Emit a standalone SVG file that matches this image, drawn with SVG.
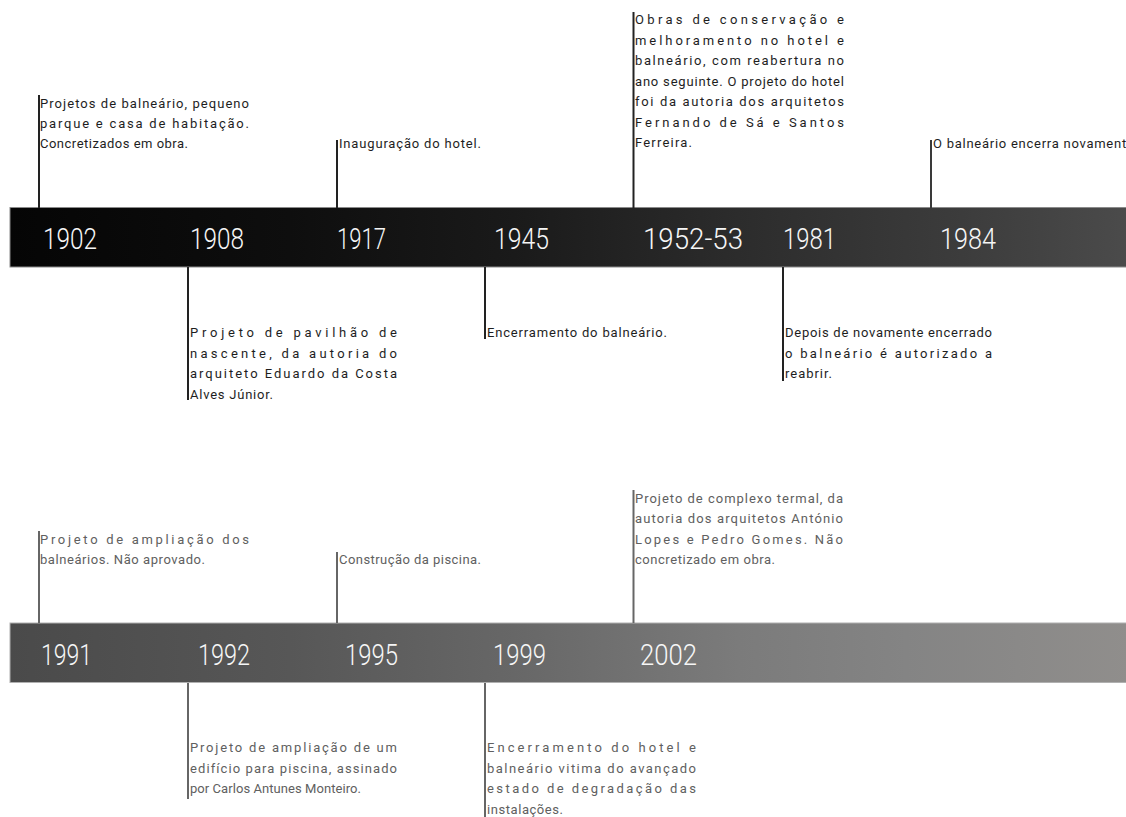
<svg xmlns="http://www.w3.org/2000/svg" width="1126" height="817" viewBox="0 0 1126 817">
<defs>
<linearGradient id="g1" x1="0" y1="0" x2="1" y2="0">
<stop offset="0" stop-color="#050505"/>
<stop offset="0.25" stop-color="#0e0e0e"/>
<stop offset="0.45" stop-color="#1a1a1a"/>
<stop offset="0.65" stop-color="#2c2c2c"/>
<stop offset="0.85" stop-color="#3c3c3c"/>
<stop offset="1" stop-color="#4b4b4b"/>
</linearGradient>
<linearGradient id="g2" x1="0" y1="0" x2="1" y2="0">
<stop offset="0" stop-color="#4a4a4a"/>
<stop offset="0.25" stop-color="#575757"/>
<stop offset="0.45" stop-color="#676767"/>
<stop offset="0.65" stop-color="#7b7b7b"/>
<stop offset="0.8" stop-color="#848484"/>
<stop offset="1" stop-color="#908e8c"/>
</linearGradient>
<style>
.bar1{fill:url(#g1);stroke:#8a8a8a;stroke-width:1}
.bar2{fill:url(#g2);stroke:#b0b0b0;stroke-width:1}
.yr{font-family:Roboto,"Liberation Sans",sans-serif;font-weight:300;font-size:29.5px;fill:#f6f6f6}
.t{font-family:Roboto,"Liberation Sans",sans-serif;font-size:13px;fill:#1e1e1e}
.t2{font-family:Roboto,"Liberation Sans",sans-serif;font-size:13px;fill:#606060}
.c1{stroke:#222;stroke-width:2;fill:none}
.c2{stroke:#666;stroke-width:2;fill:none}
</style>
</defs>
<rect width="1126" height="817" fill="#fff"/>

<g id="timeline-top">
<rect class="bar1" x="10" y="207.5" width="1120" height="59.5"/>
<text class="yr" x="43" y="249" textLength="54" lengthAdjust="spacingAndGlyphs">1902</text>
<text class="yr" x="190" y="249" textLength="54" lengthAdjust="spacingAndGlyphs">1908</text>
<text class="yr" x="337" y="249" textLength="49" lengthAdjust="spacingAndGlyphs">1917</text>
<text class="yr" x="494" y="249" textLength="55" lengthAdjust="spacingAndGlyphs">1945</text>
<text class="yr" x="643" y="249" textLength="100" lengthAdjust="spacingAndGlyphs">1952-53</text>
<text class="yr" x="783" y="249" textLength="53" lengthAdjust="spacingAndGlyphs">1981</text>
<text class="yr" x="940" y="249" textLength="56" lengthAdjust="spacingAndGlyphs">1984</text>
</g>

<g id="timeline-bottom">
<rect class="bar2" x="10" y="623" width="1120" height="59.5"/>
<text class="yr" x="41" y="665" textLength="51" lengthAdjust="spacingAndGlyphs">1991</text>
<text class="yr" x="198" y="665" textLength="52" lengthAdjust="spacingAndGlyphs">1992</text>
<text class="yr" x="345" y="665" textLength="53" lengthAdjust="spacingAndGlyphs">1995</text>
<text class="yr" x="493" y="665" textLength="53" lengthAdjust="spacingAndGlyphs">1999</text>
<text class="yr" x="640" y="665" textLength="57" lengthAdjust="spacingAndGlyphs">2002</text>
</g>

<g id="connectors">
<line class="c1" x1="39" y1="95" x2="39" y2="208"/>
<line class="c1" x1="337" y1="140" x2="337" y2="208"/>
<line class="c1" x1="633.5" y1="12" x2="633.5" y2="208"/>
<line class="c1" x1="931" y1="140" x2="931" y2="208" style="stroke:#3a3a3a"/>
<line class="c1" x1="188" y1="267" x2="188" y2="400"/>
<line class="c1" x1="485" y1="267" x2="485" y2="339"/>
<line class="c1" x1="783" y1="267" x2="783" y2="381"/>
<line class="c2" x1="39" y1="531" x2="39" y2="623"/>
<line class="c2" x1="337" y1="552" x2="337" y2="623"/>
<line class="c2" x1="633.5" y1="490" x2="633.5" y2="623"/>
<line class="c2" x1="188" y1="683" x2="188" y2="799"/>
<line class="c2" x1="485" y1="683" x2="485" y2="817"/>
</g>

<g id="ev-1902">
<text class="t" x="40" y="108" textLength="209" lengthAdjust="spacing">Projetos de balneário, pequeno</text>
<text class="t" x="40" y="128" textLength="209" lengthAdjust="spacing">parque e casa de habitação.</text>
<text class="t" x="40" y="148" textLength="148" lengthAdjust="spacing">Concretizados em obra.</text>
</g>
<g id="ev-1917">
<text class="t" x="339" y="148" textLength="142" lengthAdjust="spacing">Inauguração do hotel.</text>
</g>
<g id="ev-1952-53">
<text class="t" x="635" y="24" textLength="209" lengthAdjust="spacing">Obras de conservação e</text>
<text class="t" x="635" y="44.5" textLength="209" lengthAdjust="spacing">melhoramento no hotel e</text>
<text class="t" x="635" y="65" textLength="209" lengthAdjust="spacing">balneário, com reabertura no</text>
<text class="t" x="635" y="85.5" textLength="209" lengthAdjust="spacing">ano seguinte. O projeto do hotel</text>
<text class="t" x="635" y="106" textLength="209" lengthAdjust="spacing">foi da autoria dos arquitetos</text>
<text class="t" x="635" y="126.5" textLength="209" lengthAdjust="spacing">Fernando de Sá e Santos</text>
<text class="t" x="635" y="147" textLength="57" lengthAdjust="spacing">Ferreira.</text>
</g>
<g id="ev-1984">
<text class="t" x="933" y="148" textLength="205" lengthAdjust="spacing">O balneário encerra novamente.</text>
</g>
<g id="ev-1908">
<text class="t" x="190" y="337" textLength="207" lengthAdjust="spacing">Projeto de pavilhão de</text>
<text class="t" x="190" y="357.5" textLength="207" lengthAdjust="spacing">nascente, da autoria do</text>
<text class="t" x="190" y="378" textLength="207" lengthAdjust="spacing">arquiteto Eduardo da Costa</text>
<text class="t" x="190" y="398.5" textLength="83" lengthAdjust="spacing">Alves Júnior.</text>
</g>
<g id="ev-1945">
<text class="t" x="487" y="337" textLength="180" lengthAdjust="spacing">Encerramento do balneário.</text>
</g>
<g id="ev-1981">
<text class="t" x="785" y="337" textLength="207" lengthAdjust="spacing">Depois de novamente encerrado</text>
<text class="t" x="785" y="357.5" textLength="207" lengthAdjust="spacing">o balneário é autorizado a</text>
<text class="t" x="785" y="378" textLength="47" lengthAdjust="spacing">reabrir.</text>
</g>

<g id="ev-1991">
<text class="t2" x="40" y="544" textLength="209" lengthAdjust="spacing">Projeto de ampliação dos</text>
<text class="t2" x="40" y="564" textLength="165" lengthAdjust="spacing">balneários. Não aprovado.</text>
</g>
<g id="ev-1995">
<text class="t2" x="339" y="564" textLength="142" lengthAdjust="spacing">Construção da piscina.</text>
</g>
<g id="ev-2002">
<text class="t2" x="635" y="503" textLength="208" lengthAdjust="spacing">Projeto de complexo termal, da</text>
<text class="t2" x="635" y="523" textLength="208" lengthAdjust="spacing">autoria dos arquitetos António</text>
<text class="t2" x="635" y="543.5" textLength="208" lengthAdjust="spacing">Lopes e Pedro Gomes. Não</text>
<text class="t2" x="635" y="564" textLength="140" lengthAdjust="spacing">concretizado em obra.</text>
</g>
<g id="ev-1992">
<text class="t2" x="190" y="752" textLength="207" lengthAdjust="spacing">Projeto de ampliação de um</text>
<text class="t2" x="190" y="772.5" textLength="207" lengthAdjust="spacing">edifício para piscina, assinado</text>
<text class="t2" x="190" y="793" textLength="171" lengthAdjust="spacing">por Carlos Antunes Monteiro.</text>
</g>
<g id="ev-1999">
<text class="t2" x="487" y="752" textLength="209" lengthAdjust="spacing">Encerramento do hotel e</text>
<text class="t2" x="487" y="772.5" textLength="209" lengthAdjust="spacing">balneário vitima do avançado</text>
<text class="t2" x="487" y="793" textLength="209" lengthAdjust="spacing">estado de degradação das</text>
<text class="t2" x="487" y="813.5" textLength="76" lengthAdjust="spacing">instalações.</text>
</g>
</svg>
